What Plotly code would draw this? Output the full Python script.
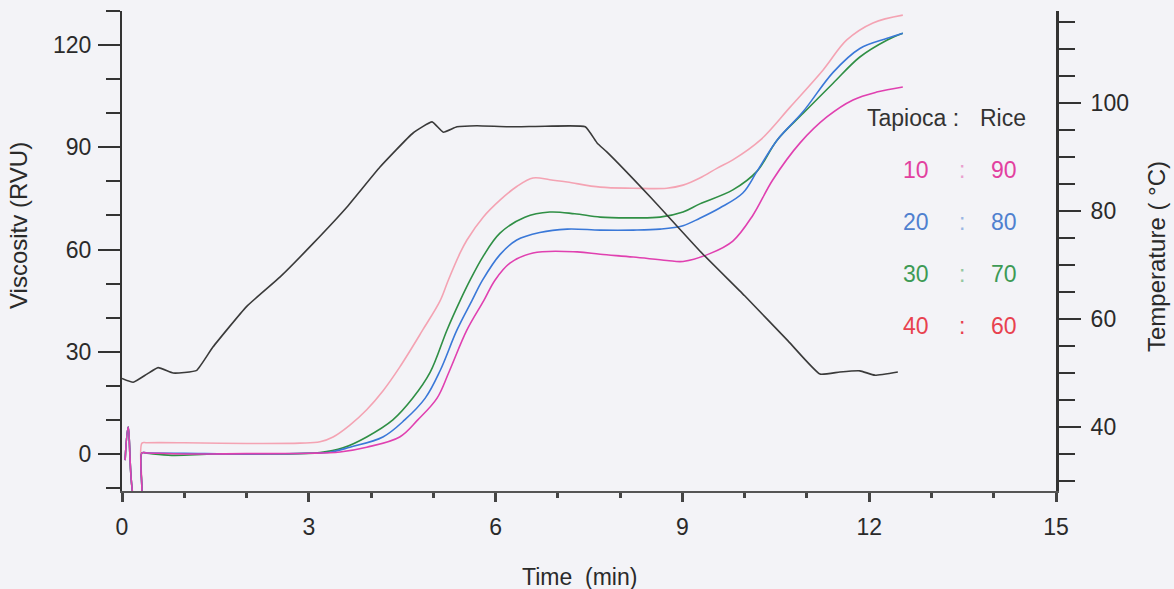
import plotly.graph_objects as go

# ---------------- data ----------------
# Tapioca : Rice = 40 : 60  (pink curve)
t_40_60 = [0.05, 0.10, 0.21, 0.30, 0.32, 0.40, 1.0, 2.0, 2.86, 3.18, 3.39, 3.66, 3.93, 4.19, 4.46, 4.83,
           5.11, 5.24, 5.43, 5.54, 5.80, 6.07, 6.34, 6.60, 6.87, 7.15, 7.68, 8.21, 8.75, 9.01,
           9.28, 9.56, 9.81, 10.25, 10.73, 11.26, 11.64, 12.06, 12.54]
v_40_60 = [-1.8, 7.9, -14, -14, 3.2, 3.3, 3.3, 3.1, 3.2, 3.6, 5.0, 8.5, 13.0, 18.5, 25.5, 36.4,
           45.0, 51.0, 59.0, 62.8, 69.5, 74.5, 78.5, 81.0, 80.5, 79.8, 78.3, 78.0, 78.0, 78.9,
           81.0, 83.9, 86.3, 92.1, 101.8, 112.7, 121.5, 126.5, 128.8]

# 30 : 70 (green)
t_30_70 = [0.05, 0.10, 0.21, 0.30, 0.32, 0.40, 0.8, 1.5, 2.5, 3.18, 3.55, 3.93, 4.35, 4.67, 4.95,
           5.22, 5.43, 5.59, 5.80, 6.07, 6.47, 6.87, 7.27, 7.68, 8.16, 8.64, 9.01, 9.28, 9.81,
           10.20, 10.52, 10.94, 11.42, 11.85, 12.29, 12.54]
v_30_70 = [-1.8, 7.9, -14, -14, 0.3, 0.2, -0.4, 0.0, 0.0, 0.4, 1.8, 5.0, 10.0, 16.4, 24.0,
           36.4, 45.0, 51.0, 58.0, 64.8, 69.5, 71.0, 70.5, 69.5, 69.3, 69.5, 71.0, 73.4, 77.5,
           83.0, 92.1, 100.0, 108.8, 116.5, 121.5, 123.5]

# 20 : 80 (blue)
t_20_80 = [0.05, 0.10, 0.21, 0.30, 0.32, 0.40, 1.0, 2.0, 3.0, 3.34, 3.66, 4.19, 4.54, 4.87, 5.11,
           5.38, 5.62, 5.79, 6.07, 6.34, 6.71, 7.15, 7.68, 8.21, 8.64, 9.01, 9.28, 9.60, 9.97,
           10.20, 10.52, 10.94, 11.42, 11.85, 12.29, 12.54]
v_20_80 = [-1.8, 7.9, -14, -14, 0.3, 0.3, 0.2, 0.0, 0.2, 0.5, 2.0, 5.0, 10.0, 16.4, 24.5,
           36.4, 45.0, 51.0, 58.5, 62.8, 65.0, 66.0, 65.7, 65.7, 66.0, 67.0, 69.2, 72.2, 76.6,
           83.0, 92.1, 100.5, 112.0, 119.0, 122.0, 123.5]

# 10 : 90 (magenta)
t_10_90 = [0.05, 0.10, 0.21, 0.30, 0.32, 0.40, 1.0, 2.0, 3.0, 3.5, 3.93, 4.46, 4.75, 5.06, 5.25,
           5.54, 5.81, 5.99, 6.23, 6.60, 7.31, 7.68, 8.21, 8.75, 9.01, 9.44, 9.81, 10.13,
           10.45, 10.89, 11.32, 11.74, 12.12, 12.54]
v_10_90 = [-1.8, 7.9, -14, -14, 0.3, 0.3, 0.0, 0.1, 0.2, 0.6, 2.0, 5.0, 10.0, 16.4, 24.0,
           36.4, 45.0, 51.0, 56.0, 59.0, 59.3, 58.6, 57.8, 56.8, 56.5, 58.8, 62.5, 70.0,
           80.4, 91.3, 98.9, 103.9, 106.2, 107.7]

# temperature profile (black, right axis)
temp_t = [0.0, 0.18, 0.40, 0.58, 0.82, 1.00, 1.20, 1.46, 2.00, 2.54, 3.07, 3.61, 4.14, 4.67,
          4.98, 5.16, 5.38, 5.70, 6.20, 6.80, 7.44, 7.63, 7.79, 8.50, 9.28, 10.00, 10.70,
          11.21, 11.53, 11.85, 12.09, 12.46]
temp_c = [49.0, 48.3, 49.8, 51.0, 50.0, 50.1, 50.5, 54.8, 62.3, 67.8, 74.0, 80.7, 88.1, 94.4,
          96.5, 94.6, 95.6, 95.8, 95.6, 95.7, 95.6, 92.6, 90.9, 82.4, 72.6, 64.3, 55.9,
          49.8, 50.2, 50.4, 49.6, 50.2]

x_ticks = [0, 3, 6, 9, 12, 15]
visc_ticks = [0, 30, 60, 90, 120]
temp_ticks = [40, 60, 80, 100]

tapioca_parts = ["10", "20", "30", "40"]
rice_parts = ["90", "80", "70", "60"]

# ---------------- styling ----------------
W, H = 1174, 589
L, R, T, B = 122, 118, 11, 98
PX0, PX1 = L, W - R
PY0, PY1 = T, H - B
FONT = "Liberation Sans, Arial, sans-serif"
BG = "#f3f3f7"

curve_colors = {"10": "#e040b0", "20": "#3a78d8", "30": "#2f8f45", "40": "#f4a3b3"}
label_colors = {"10": "#e2409f", "20": "#4f80cf", "30": "#3d9a55", "40": "#e8414f"}
colon_colors = {"10": "#eaa0cf", "20": "#9ab6e4", "30": "#94c7a0", "40": "#e8414f"}


def px(xp):
    return (xp - PX0) / (PX1 - PX0)


def py(yp):
    return (PY1 - yp) / (PY1 - PY0)


fig = go.Figure()

series = [("40", t_40_60, v_40_60), ("30", t_30_70, v_30_70),
          ("20", t_20_80, v_20_80), ("10", t_10_90, v_10_90)]
for key, tt, vv in series:
    fig.add_trace(go.Scatter(x=tt, y=vv, mode="lines", name=key,
                             line=dict(color=curve_colors[key], width=1.6, shape="spline", smoothing=1.0),
                             showlegend=False, hoverinfo="skip"))

fig.add_trace(go.Scatter(x=temp_t, y=temp_c, mode="lines", yaxis="y2",
                         line=dict(color="#3a3a3a", width=1.6, shape="spline", smoothing=0.4),
                         showlegend=False, hoverinfo="skip"))

# y ranges chosen so that 0 RVU and 40 C sit on the reference pixels
y_bottom, y_top = -10.86, 130.0
t_bottom, t_top = 28.15, 117.04

fig.update_layout(
    width=W, height=H, autosize=False,
    margin=dict(l=L, r=R, t=T, b=B, pad=0),
    paper_bgcolor=BG, plot_bgcolor=BG,
    font=dict(family=FONT, size=23, color="#2a2a2a"),
    xaxis=dict(range=[0, 15], tickvals=x_ticks, ticktext=[str(v) for v in x_ticks],
               showgrid=False, zeroline=False, showline=True, linecolor="#555", linewidth=1.5,
               ticks="outside", ticklen=9, tickwidth=3, tickcolor="#444",
               minor=dict(dtick=1, ticks="outside", ticklen=5, tickwidth=3, tickcolor="#444"),
               ticklabelstandoff=6, tickfont=dict(size=23, color="#2a2a2a")),
    yaxis=dict(range=[y_bottom, y_top], tickvals=visc_ticks, ticktext=[str(v) for v in visc_ticks],
               showgrid=False, zeroline=False, showline=True, linecolor="#333", linewidth=2,
               ticks="outside", ticklen=22, tickwidth=2, tickcolor="#333",
               minor=dict(dtick=10, tick0=0, ticks="outside", ticklen=14, tickwidth=2, tickcolor="#333"),
               ticklabelstandoff=2, tickfont=dict(size=23, color="#2a2a2a")),
    yaxis2=dict(range=[t_bottom, t_top], overlaying="y", side="right",
                tickvals=temp_ticks, ticktext=[str(v) for v in temp_ticks],
                showgrid=False, zeroline=False, showline=True, linecolor="#333", linewidth=3,
                ticks="outside", ticklen=22, tickwidth=2, tickcolor="#333",
                minor=dict(dtick=5, tick0=0, ticks="outside", ticklen=16, tickwidth=2, tickcolor="#333"),
                ticklabelstandoff=5, tickfont=dict(size=23, color="#2a2a2a")),
)

ann = []
# axis titles
ann.append(dict(text="Viscositv (RVU)", x=px(19), y=py(226), xref="paper", yref="paper",
                textangle=-90, showarrow=False, font=dict(size=24, color="#2a2a2a"),
                xanchor="center", yanchor="middle"))
ann.append(dict(text="Temperature ( °C)", x=px(1156), y=py(257), xref="paper", yref="paper",
                textangle=-90, showarrow=False, font=dict(size=24, color="#2a2a2a"),
                xanchor="center", yanchor="middle"))
ann.append(dict(text="Time  (min)", x=px(579), y=py(577), xref="paper", yref="paper",
                showarrow=False, font=dict(size=23, color="#2a2a2a"),
                xanchor="center", yanchor="middle"))

# legend block
ann.append(dict(text="Tapioca :", x=px(865), y=py(118), xref="paper", yref="paper",
                showarrow=False, font=dict(size=23, color="#333"), xanchor="left", yanchor="middle"))
ann.append(dict(text="Rice", x=px(978), y=py(118), xref="paper", yref="paper",
                showarrow=False, font=dict(size=23, color="#333"), xanchor="left", yanchor="middle"))
row_y = [170, 222, 274, 326]
for a, b, yy in zip(tapioca_parts, rice_parts, row_y):
    ann.append(dict(text=a, x=px(931), y=py(yy), xref="paper", yref="paper", showarrow=False,
                    font=dict(size=23, color=label_colors[a]), xanchor="right", yanchor="middle"))
    ann.append(dict(text=":", x=px(962), y=py(yy), xref="paper", yref="paper", showarrow=False,
                    font=dict(size=23, color=colon_colors[a]), xanchor="center", yanchor="middle"))
    ann.append(dict(text=b, x=px(1019), y=py(yy), xref="paper", yref="paper", showarrow=False,
                    font=dict(size=23, color=label_colors[a]), xanchor="right", yanchor="middle"))

fig.update_layout(annotations=ann)

fig.write_html("out.html", config={"displayModeBar": False},
               post_script="document.body.style.margin='0';")
